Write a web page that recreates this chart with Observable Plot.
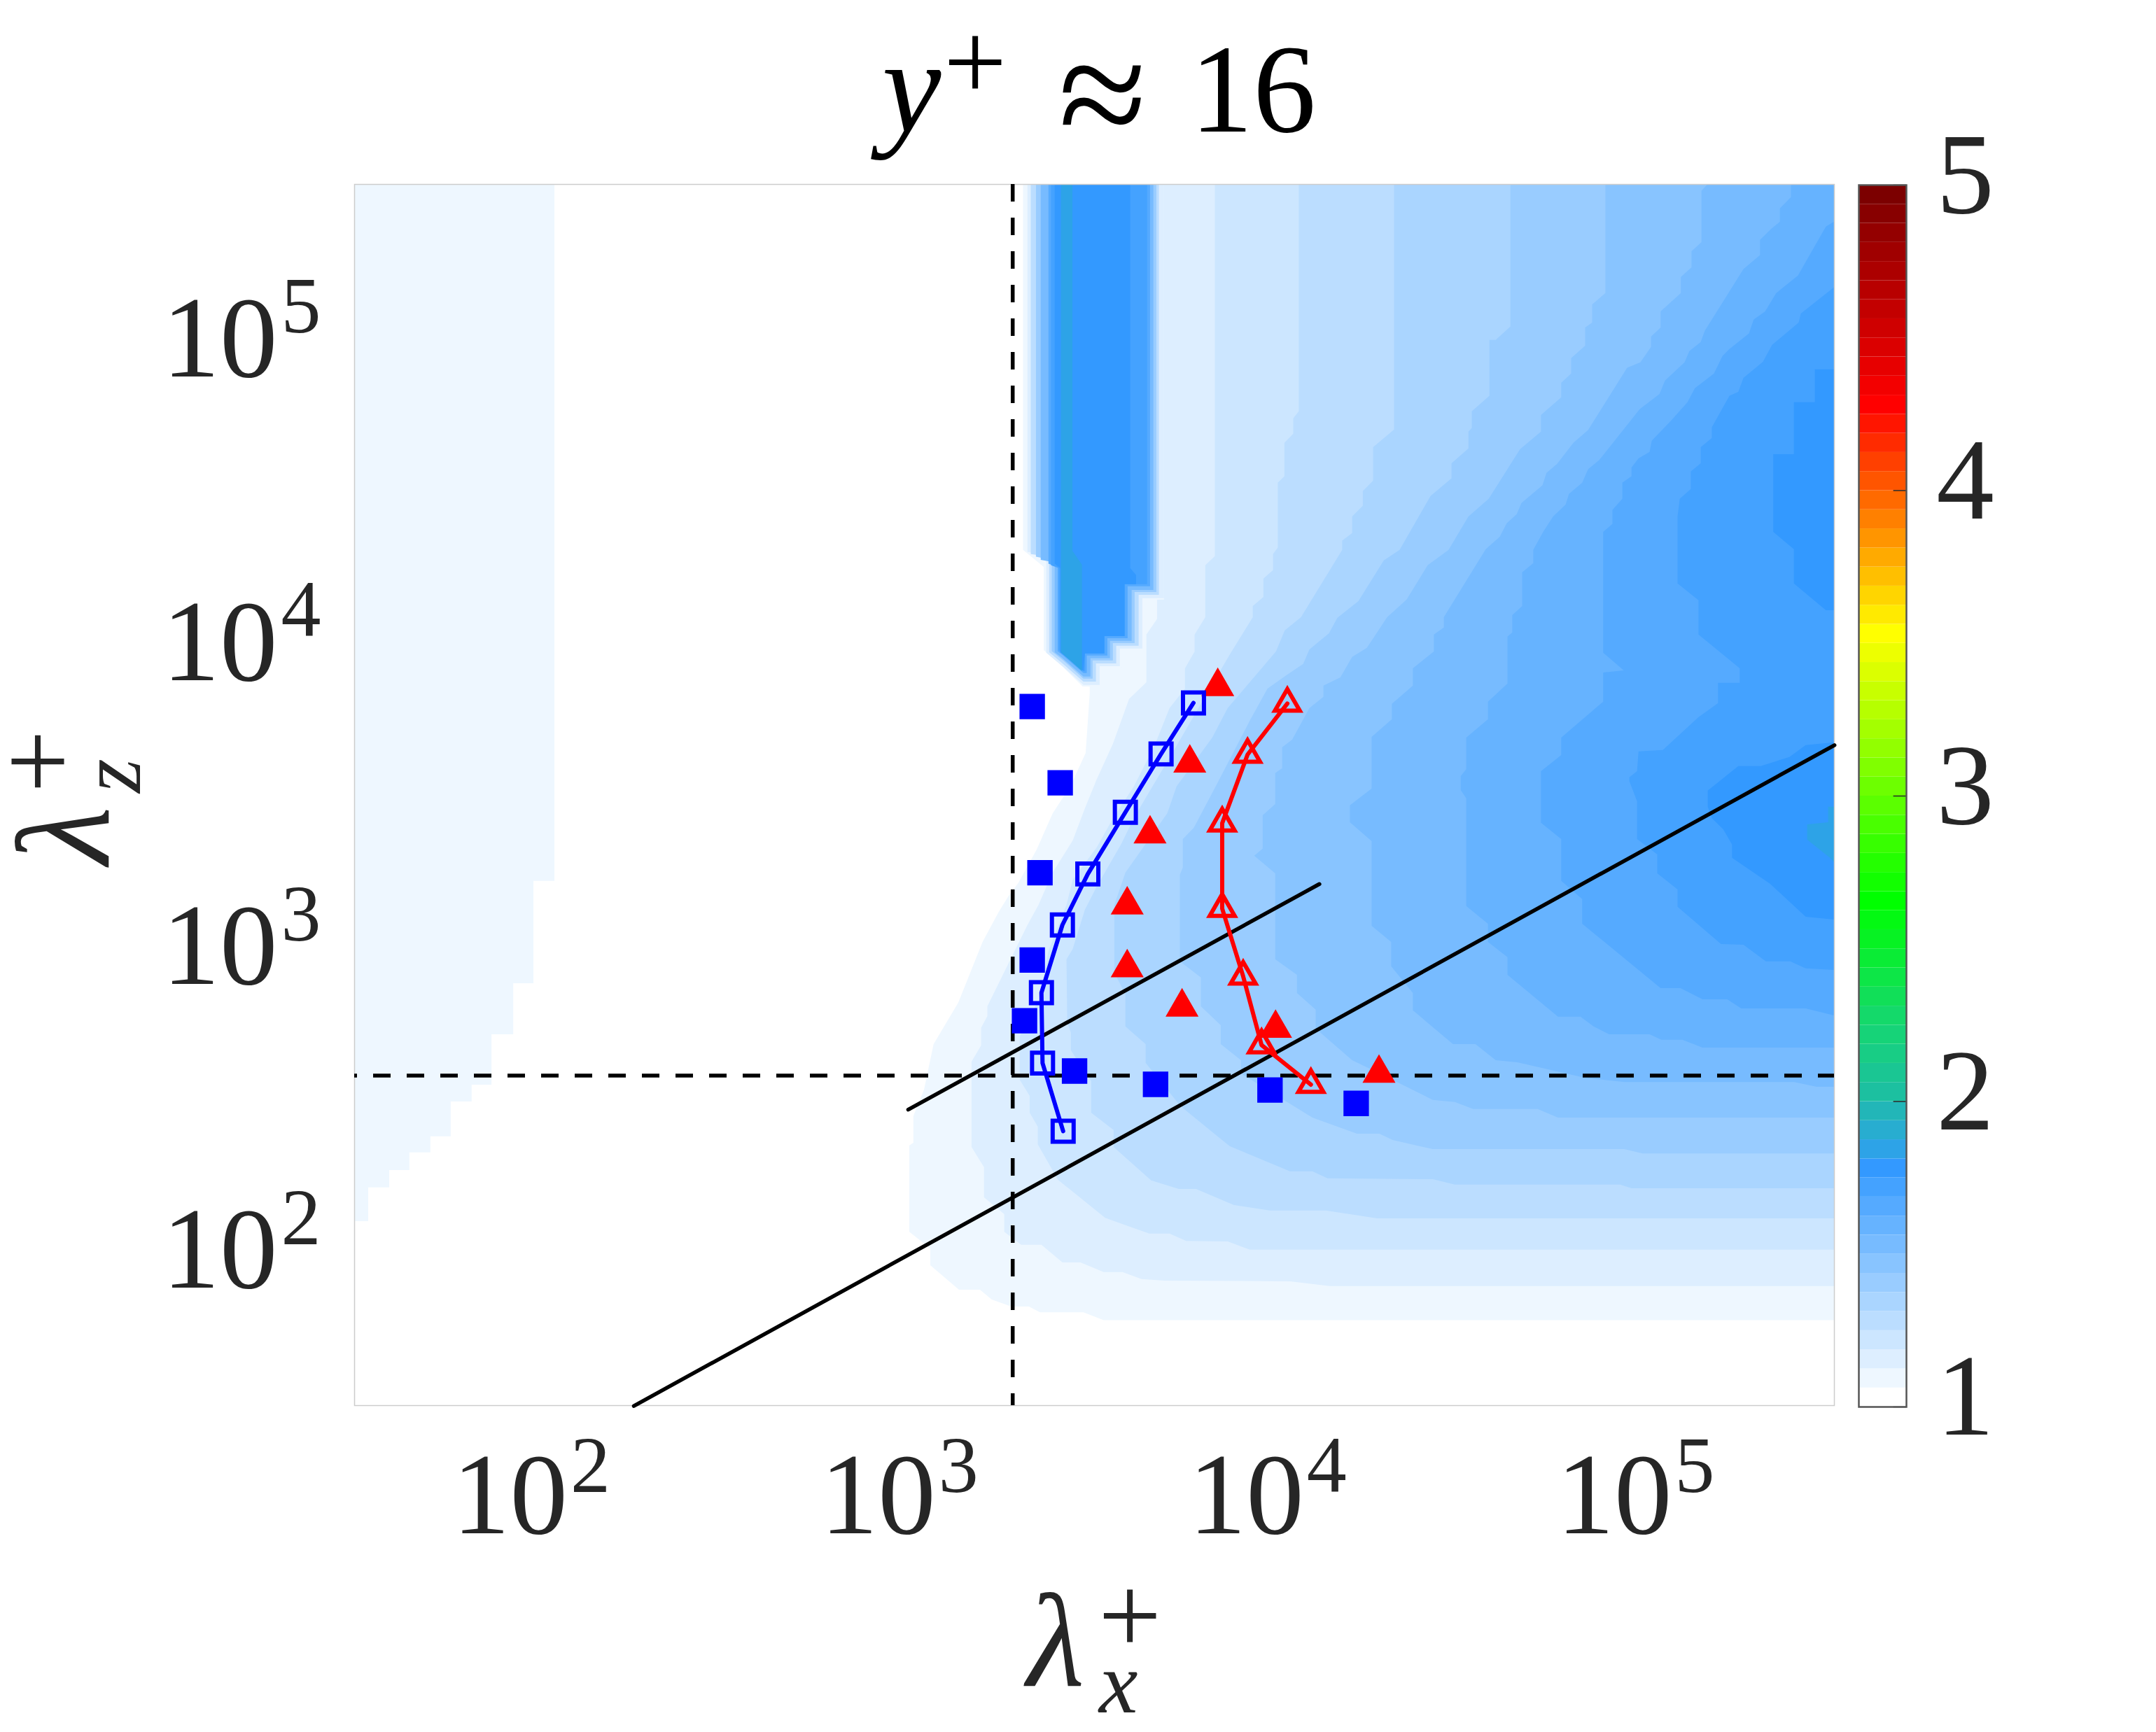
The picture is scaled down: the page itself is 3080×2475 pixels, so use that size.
<!DOCTYPE html>
<html>
<head>
<meta charset="utf-8">
<script src="https://cdn.jsdelivr.net/npm/d3@7"></script>
<script src="https://cdn.jsdelivr.net/npm/@observablehq/plot@0.6"></script>
<style>
  html, body { margin: 0; padding: 0; background: #fff; }
  #chart { position: relative; width: 3080px; height: 2475px; overflow: hidden; }
  #chart svg { display: block; max-width: none; }
</style>
</head>
<body>
<div id="chart"></div>
<script>
// log10 limits of both axes
const logMin = 1.52;
const logMax = 5.54;
const xTicks = [2, 3, 4, 5];
const yTicks = [2, 3, 4, 5];
const barTicks = [1, 2, 3, 4, 5];

// colorbar stops (value, colour), 16 bands per unit
const cmapValues = [1, 1.75, 2, 2.25, 2.625, 3.5, 4.25, 5];
const cmapColors = ["#ffffff", "#3399ff", "#1cc0a0", "#14d96a", "#00ff00", "#ffff00", "#ff0000", "#700000"];

// markers and lines, lambda_x+ and lambda_z+
const blueFilledX = [2296, 2735, 2410, 2296, 2188, 2992, 4966, 10160, 17420];
const blueFilledZ = [6622, 3715, 1879, 970, 612, 418, 378, 362, 327];
const blueOpenX = [6295, 5140, 4111, 3251, 2773, 2432, 2449, 2786];
const blueOpenZ = [6808, 4624, 2972, 1862, 1265, 757, 444, 265];
const redFilledX = [7328, 6152, 4797, 4159, 4159, 5861, 10520, 20090];
const redFilledZ = [7709, 4315, 2523, 1472, 914, 679, 578, 411];
const redOpenX = [11324, 8831, 7534, 7534, 8590, 9638, 13122];
const redOpenZ = [6776, 4603, 2735, 1432, 857, 509, 377];
const longLineX = [190, 347000];
const longLineZ = [33, 4943];
const shortLineX = [1057, 13840];
const shortLineZ = [312, 1725];
const dashX = [2032];
const dashZ = [404];

// contour edges as [log10 lambda_x, log10 lambda_z]
// each band is filled from its edge to the right side of the plot
const band1 = [[5.54,1.8],[3.556,1.8],[3.501,1.826],[3.383,1.826],[3.353,1.845],[3.305,1.845],[3.252,1.868],[3.22,1.9],[3.163,1.9],[3.085,1.981],[3.085,2.036],[3.028,2.091],[3.028,2.375],[3.039,2.384],[3.039,2.472],[3.068,2.559],[3.094,2.709],[3.161,2.845],[3.227,3.045],[3.271,3.144],[3.298,3.197],[3.324,3.239],[3.374,3.349],[3.417,3.467],[3.467,3.561],[3.507,3.667],[3.518,3.861],[3.518,5.54]];
const band2 = [[5.54,1.912],[4.17,1.912],[4.062,1.928],[3.721,1.93],[3.659,1.935],[3.607,1.958],[3.556,1.958],[3.493,1.99],[3.444,1.99],[3.387,2.048],[3.332,2.048],[3.286,2.091],[3.286,2.149],[3.231,2.204],[3.231,2.303],[3.197,2.37],[3.197,2.651],[3.223,2.704],[3.223,2.762],[3.24,2.801],[3.24,2.833],[3.298,2.976],[3.349,3.101],[3.379,3.167],[3.417,3.273],[3.472,3.379],[3.505,3.485],[3.537,3.58],[3.581,3.697],[3.625,3.845],[3.672,3.9],[3.672,4.057],[3.701,4.108],[3.701,4.172],[3.72,4.172],[3.72,5.54]];
const band3 = [[5.54,2.032],[3.953,2.032],[3.893,2.059],[3.78,2.061],[3.735,2.085],[3.68,2.085],[3.638,2.103],[3.56,2.137],[3.432,2.262],[3.377,2.379],[3.377,2.437],[3.355,2.483],[3.355,2.538],[3.328,2.591],[3.328,2.734],[3.383,2.863],[3.406,3.015],[3.455,3.167],[3.472,3.25],[3.537,3.356],[3.581,3.451],[3.638,3.557],[3.693,3.688],[3.735,3.815],[3.777,3.879],[3.777,3.946],[3.803,4.001],[3.803,4.057],[3.832,4.114],[3.832,4.285],[3.858,4.315],[3.858,5.54]];
const band4 = [[5.54,2.135],[4.299,2.135],[4.159,2.161],[4.007,2.161],[3.91,2.179],[3.807,2.232],[3.76,2.232],[3.685,2.26],[3.583,2.37],[3.583,2.426],[3.522,2.483],[3.522,2.587],[3.467,2.688],[3.467,2.746],[3.457,2.78],[3.455,2.988],[3.472,3.022],[3.505,3.151],[3.537,3.227],[3.604,3.368],[3.638,3.453],[3.674,3.527],[3.746,3.674],[3.82,3.829],[3.898,3.99],[3.961,4.114],[3.961,4.151],[3.99,4.181],[3.99,4.241],[4.016,4.269],[4.016,4.322],[4.029,4.343],[4.029,4.557],[4.047,4.578],[4.047,4.688],[4.071,4.718],[4.071,4.769],[4.086,4.792],[4.086,5.54]];
const band5 = [[5.54,2.234],[4.99,2.234],[4.959,2.246],[4.51,2.246],[4.45,2.264],[4.164,2.267],[4.123,2.29],[4.062,2.29],[3.898,2.373],[3.765,2.504],[3.67,2.647],[3.67,2.709],[3.615,2.767],[3.615,2.873],[3.585,2.944],[3.585,3.167],[3.615,3.273],[3.729,3.469],[3.754,3.557],[3.851,3.718],[3.893,3.815],[3.99,3.953],[4.024,4.001],[4.048,4.071],[4.092,4.114],[4.204,4.336],[4.204,4.366],[4.231,4.391],[4.231,4.446],[4.26,4.481],[4.26,4.529],[4.288,4.564],[4.288,4.674],[4.345,4.732],[4.345,5.54]];
const band6 = [[5.54,2.349],[5.02,2.349],[4.97,2.363],[4.45,2.363],[4.341,2.393],[4.305,2.414],[4.244,2.414],[4.123,2.467],[3.929,2.612],[3.929,2.656],[3.874,2.709],[3.874,2.771],[3.82,2.833],[3.82,2.928],[3.763,2.981],[3.763,3.266],[3.771,3.29],[3.771,3.384],[3.801,3.421],[3.868,3.575],[3.955,3.778],[4.001,3.879],[4.052,3.923],[4.098,3.96],[4.115,4.008],[4.168,4.061],[4.191,4.112],[4.248,4.167],[4.317,4.301],[4.36,4.336],[4.444,4.513],[4.501,4.571],[4.501,4.621],[4.547,4.67],[4.547,4.725],[4.556,4.737],[4.556,4.792],[4.604,4.843],[4.604,5.027],[4.621,5.027],[4.661,5.071],[4.661,5.54]];
const band7 = [[5.54,2.467],[4.79,2.467],[4.735,2.495],[4.56,2.495],[4.51,2.518],[4.45,2.525],[4.353,2.584],[4.231,2.656],[4.132,2.76],[4.132,2.822],[4.081,2.877],[4.081,2.937],[4.022,2.988],[4.022,3.271],[3.965,3.329],[3.988,3.352],[3.988,3.462],[4.022,3.499],[4.022,3.601],[4.041,3.617],[4.041,3.686],[4.068,3.711],[4.115,3.815],[4.153,3.852],[4.153,3.889],[4.199,3.916],[4.231,3.983],[4.271,4.013],[4.326,4.114],[4.379,4.172],[4.436,4.285],[4.493,4.336],[4.547,4.446],[4.602,4.504],[4.687,4.667],[4.744,4.725],[4.744,4.78],[4.799,4.838],[4.799,4.886],[4.826,4.916],[4.826,4.967],[4.864,5.008],[4.864,5.068],[4.883,5.084],[4.883,5.144],[4.919,5.181],[4.919,5.54]];
const band8 = [[5.54,2.568],[5.493,2.568],[5.432,2.584],[4.972,2.584],[4.862,2.598],[4.68,2.649],[4.621,2.656],[4.566,2.709],[4.505,2.709],[4.396,2.82],[4.396,2.877],[4.337,2.965],[4.337,3.045],[4.284,3.098],[4.284,3.377],[4.225,3.439],[4.225,3.495],[4.284,3.55],[4.284,3.72],[4.339,3.778],[4.339,3.829],[4.396,3.889],[4.396,3.946],[4.453,4.001],[4.453,4.057],[4.48,4.08],[4.48,4.114],[4.594,4.338],[4.632,4.379],[4.651,4.423],[4.678,4.453],[4.691,4.49],[4.748,4.548],[4.759,4.589],[4.788,4.619],[4.832,4.688],[4.872,4.73],[4.978,4.935],[5.014,4.953],[5.043,5.004],[5.043,5.038],[5.069,5.068],[5.069,5.121],[5.124,5.181],[5.124,5.234],[5.153,5.266],[5.153,5.319],[5.18,5.349],[5.18,5.518],[5.197,5.54]];
const band9 = [[5.54,2.697],[5.183,2.697],[5.128,2.723],[5.071,2.723],[5.039,2.741],[4.929,2.741],[4.887,2.767],[4.851,2.799],[4.79,2.799],[4.653,2.937],[4.653,2.995],[4.6,3.045],[4.6,3.105],[4.541,3.163],[4.541,3.518],[4.526,3.545],[4.526,3.591],[4.541,3.614],[4.541,3.718],[4.6,3.778],[4.6,3.836],[4.653,3.896],[4.653,4.05],[4.666,4.064],[4.666,4.121],[4.693,4.151],[4.693,4.262],[4.723,4.292],[4.723,4.336],[4.75,4.395],[4.777,4.446],[4.811,4.485],[4.82,4.52],[4.856,4.557],[4.872,4.601],[4.902,4.631],[5.012,4.799],[5.066,4.849],[5.081,4.893],[5.134,4.953],[5.147,4.99],[5.178,5.02],[5.189,5.057],[5.294,5.26],[5.339,5.306],[5.339,5.356],[5.37,5.393],[5.393,5.416],[5.393,5.46],[5.423,5.497],[5.423,5.54]];
const band10 = [[5.54,2.803],[5.463,2.826],[5.288,2.826],[5.25,2.856],[5.183,2.856],[5.123,2.893],[5.069,2.893],[4.856,3.105],[4.856,3.186],[4.799,3.246],[4.799,3.384],[4.744,3.437],[4.744,3.607],[4.799,3.66],[4.799,3.718],[4.913,3.836],[4.913,3.932],[4.969,3.939],[4.913,3.997],[4.913,4.395],[4.938,4.421],[4.938,4.467],[4.965,4.504],[4.965,4.557],[4.99,4.578],[4.99,4.607],[5.009,4.637],[5.039,4.658],[5.045,4.695],[5.098,4.762],[5.142,4.822],[5.162,4.868],[5.214,4.916],[5.237,4.974],[5.256,4.997],[5.309,5.048],[5.322,5.094],[5.353,5.121],[5.383,5.181],[5.442,5.239],[5.518,5.4],[5.54,5.416]];
const band11 = [[5.54,2.953],[5.463,2.958],[5.421,2.981],[5.355,2.981],[5.294,3.036],[5.233,3.038],[5.115,3.161],[5.115,3.218],[5.06,3.271],[5.06,3.333],[5.005,3.384],[5.005,3.508],[4.984,3.575],[4.984,3.587],[5.005,3.607],[5.009,3.672],[5.075,3.677],[5.172,3.785],[5.225,3.831],[5.225,3.898],[5.284,3.898],[5.284,3.946],[5.172,4.057],[5.172,4.17],[5.115,4.225],[5.115,4.446],[5.121,4.504],[5.151,4.536],[5.151,4.594],[5.178,4.621],[5.178,4.674],[5.208,4.704],[5.208,4.739],[5.256,4.843],[5.28,4.856],[5.294,4.902],[5.347,4.955],[5.372,5.011],[5.444,5.084],[5.45,5.114],[5.54,5.2]];
const band12a = [[5.54,4.137],[5.518,4.137],[5.431,4.225],[5.431,4.338],[5.375,4.395],[5.375,4.651],[5.431,4.651],[5.431,4.822],[5.488,4.822],[5.488,4.93],[5.54,4.93]];
const band12b = [[5.54,3.119],[5.463,3.128],[5.366,3.237],[5.263,3.322],[5.263,3.366],[5.239,3.416],[5.208,3.453],[5.197,3.49],[5.197,3.543],[5.28,3.624],[5.341,3.624],[5.419,3.654],[5.463,3.693],[5.54,3.702]];
const band13 = [[5.54,3.308],[5.529,3.322],[5.467,3.382],[5.467,3.432],[5.524,3.439],[5.524,3.49],[5.54,3.49]];

// lower left strip, filled from the left side of the plot to its edge
const leftStrip = [[2.064,5.54],[2.064,3.246],[2.007,3.246],[2.007,2.909],[1.952,2.909],[1.952,2.741],[1.893,2.741],[1.893,2.575],[1.839,2.575],[1.839,2.52],[1.782,2.52],[1.782,2.405],[1.727,2.405],[1.727,2.352],[1.67,2.352],[1.67,2.294],[1.615,2.294],[1.615,2.237],[1.558,2.237],[1.558,2.126],[1.52,2.126]];

// column at the top, [log x left, log x right, log z]
const col1 = [[3.337,3.706,5.54],[3.337,3.706,4.336],[3.393,3.706,4.28],[3.393,3.706,4.172],[3.393,3.666,4.172],[3.393,3.666,4.006],[3.393,3.605,4.006],[3.446,3.605,3.949],[3.446,3.548,3.949],[3.499,3.548,3.886]];
const col2 = [[3.349,3.72,5.54],[3.349,3.72,4.329],[3.4,3.72,4.32],[3.4,3.72,4.177],[3.4,3.661,4.177],[3.4,3.661,4.011],[3.4,3.6,4.011],[3.4,3.6,3.997],[3.444,3.6,3.953],[3.444,3.545,3.953],[3.501,3.545,3.891]];
const col4 = [[3.358,3.706,5.54],[3.358,3.706,4.322],[3.408,3.706,4.313],[3.408,3.706,4.188],[3.408,3.651,4.188],[3.408,3.651,4.02],[3.408,3.59,4.02],[3.408,3.59,3.999],[3.444,3.59,3.962],[3.444,3.535,3.962],[3.501,3.535,3.902]];
const col6 = [[3.372,3.699,5.54],[3.372,3.699,4.313],[3.415,3.699,4.303],[3.415,3.699,4.197],[3.415,3.64,4.197],[3.415,3.64,4.029],[3.415,3.581,4.029],[3.415,3.581,4.002],[3.446,3.581,3.972],[3.446,3.526,3.972],[3.501,3.526,3.912]];
const col8 = [[3.385,3.691,5.54],[3.385,3.691,4.303],[3.423,3.691,4.294],[3.423,3.691,4.204],[3.423,3.632,4.204],[3.423,3.632,4.036],[3.423,3.573,4.036],[3.423,3.573,3.999],[3.444,3.573,3.979],[3.444,3.52,3.979],[3.501,3.52,3.919]];
const col10 = [[3.406,3.682,5.54],[3.406,3.682,4.29],[3.431,3.682,4.28],[3.431,3.682,4.216],[3.431,3.621,4.216],[3.431,3.621,4.045],[3.431,3.566,4.045],[3.431,3.566,4.002],[3.446,3.566,3.988],[3.446,3.51,3.988],[3.501,3.51,3.93]];
const col11 = [[3.413,3.674,5.54],[3.413,3.674,4.285],[3.434,3.674,4.276],[3.434,3.674,4.223],[3.434,3.613,4.223],[3.434,3.613,4.052],[3.434,3.558,4.052],[3.434,3.558,4.006],[3.446,3.558,3.995],[3.446,3.505,3.995],[3.501,3.505,3.937]];
const col12 = [[3.423,3.628,5.54],[3.423,3.628,4.29],[3.438,3.628,4.276],[3.438,3.644,4.253],[3.438,3.644,4.223],[3.438,3.613,4.223],[3.438,3.613,4.052],[3.438,3.558,4.052],[3.438,3.558,3.999],[3.442,3.558,3.995],[3.442,3.505,3.995],[3.501,3.501,3.937]];
const col13 = [[3.44,3.471,5.54],[3.44,3.471,4.333],[3.44,3.497,4.287],[3.44,3.497,3.999],[3.497,3.497,3.937]];

const bandList = [[1, band1], [2, band2], [3, band3], [4, band4], [5, band5], [6, band6], [7, band7], [8, band8], [9, band9], [10, band10], [11, band11], [12, band12a], [12, band12b], [13, band13]];
const colList = [[1, col1], [2, col2], [4, col4], [6, col6], [8, col8], [10, col10], [11, col11], [12, col12], [13, col13]];

const level = k => 1 + k / 16;
const cmap = d3.scaleLinear().domain(cmapValues).range(cmapColors);
const bands = d3.range(64);
const colorOpts = {
  type: "threshold",
  domain: bands.slice(1).map(level),
  range: bands.map(k => cmap(level(k)))
};

const pairs = (xs, zs) => xs.map((x, i) => ({x: x, z: zs[i]}));

const serif = "Liberation Serif";
const ink = "#262626";

const chart = Plot.plot({
  width: 3080,
  height: 2475,
  marginLeft: 506,
  marginRight: 460,
  marginTop: 263,
  marginBottom: 467,
  x: {type: "log", domain: [10 ** logMin, 10 ** logMax], axis: null},
  y: {type: "log", domain: [10 ** logMin, 10 ** logMax], axis: null},
  color: colorOpts,
  marks: [
    Plot.areaX(leftStrip, {
      y: d => 10 ** d[1],
      x1: () => 10 ** logMin,
      x2: d => 10 ** d[0],
      fill: () => level(1)
    }),
    ...bandList.map(([k, pts]) => Plot.areaX(pts, {
      y: d => 10 ** d[1],
      x1: d => 10 ** d[0],
      x2: () => 10 ** logMax,
      fill: () => level(k)
    })),
    ...colList.map(([k, pts]) => Plot.areaX(pts, {
      y: d => 10 ** d[2],
      x1: d => 10 ** d[0],
      x2: d => 10 ** d[1],
      fill: () => level(k)
    })),
    Plot.frame({stroke: "#cccccc", strokeWidth: 1.5}),
    Plot.ruleX(dashX, {stroke: "black", strokeWidth: 5.5, strokeDasharray: "25,23"}),
    Plot.ruleY(dashZ, {stroke: "black", strokeWidth: 5.5, strokeDasharray: "25,23", strokeDashoffset: 21}),
    Plot.line(pairs(longLineX, longLineZ), {x: "x", y: "z", stroke: "black", strokeWidth: 5.5}),
    Plot.line(pairs(shortLineX, shortLineZ), {x: "x", y: "z", stroke: "black", strokeWidth: 5.5}),
    Plot.dot(pairs(blueFilledX, blueFilledZ), {x: "x", y: "z", symbol: "square", r: 20.5, fill: "#0000ff"}),
    Plot.dot(pairs(redFilledX, redFilledZ), {x: "x", y: "z", symbol: "triangle", r: 17.5, fill: "#ff0000"}),
    Plot.line(pairs(blueOpenX, blueOpenZ), {x: "x", y: "z", stroke: "#0000ff", strokeWidth: 6}),
    Plot.dot(pairs(blueOpenX, blueOpenZ), {x: "x", y: "z", symbol: "square", r: 16.9, stroke: "#0000ff", strokeWidth: 6, fill: "none"}),
    Plot.line(pairs(redOpenX, redOpenZ), {x: "x", y: "z", stroke: "#ff0000", strokeWidth: 6}),
    Plot.dot(pairs(redOpenX, redOpenZ), {x: "x", y: "z", symbol: "triangle", r: 13.2, stroke: "#ff0000", strokeWidth: 6, fill: "none"}),
    // tick labels, base and exponent apart
    Plot.text(xTicks, {x: d => 10 ** d, text: () => "10", frameAnchor: "bottom", lineAnchor: "middle", textAnchor: "end", dx: 52, dy: 130, fontSize: 165, fontFamily: serif, fill: ink}),
    Plot.text(xTicks, {x: d => 10 ** d, text: d => String(d), frameAnchor: "bottom", lineAnchor: "middle", textAnchor: "start", dx: 56, dy: 87, fontSize: 114, fontFamily: serif, fill: ink}),
    Plot.text(yTicks, {y: d => 10 ** d, text: () => "10", frameAnchor: "left", textAnchor: "end", dx: -110, dy: -13, fontSize: 165, fontFamily: serif, fill: ink}),
    Plot.text(yTicks, {y: d => 10 ** d, text: d => String(d), frameAnchor: "left", textAnchor: "start", dx: -105, dy: -59, fontSize: 114, fontFamily: serif, fill: ink})
  ]
});

const colorbar = Plot.plot({
  width: 460,
  height: 2475,
  marginLeft: 35,
  marginRight: 357,
  marginTop: 264,
  marginBottom: 465,
  x: {domain: [0, 1], axis: null},
  y: {domain: [1, 5], axis: null},
  color: colorOpts,
  marks: [
    Plot.rect(bands, {x1: () => 0, x2: () => 1, y1: level, y2: k => level(k) + 1 / 16, fill: level}),
    Plot.ruleY(barTicks, {x1: 0.73, x2: 1, stroke: ink, strokeWidth: 1.5}),
    Plot.frame({stroke: "#555555", strokeWidth: 2.5}),
    Plot.text(barTicks, {y: d => d, text: d => String(d), frameAnchor: "right", textAnchor: "middle", dx: 84, dy: -13, fontSize: 165, fontFamily: serif, fill: ink})
  ]
});
colorbar.style.position = "absolute";
colorbar.style.left = "2620px";
colorbar.style.top = "0px";
colorbar.style.background = "transparent";

d3.select("#chart").append(() => chart);
d3.select("#chart").append(() => colorbar);

// title and axis labels, each one text element with placed tspans
const svg = d3.select(chart);
function mathText(parts, transform) {
  const t = svg.append("text").attr("font-family", serif).attr("fill", ink);
  if (transform) t.attr("transform", transform);
  parts.forEach(p => {
    t.append("tspan")
      .attr("x", p.x).attr("y", p.y)
      .attr("font-size", p.size)
      .attr("font-style", p.italic ? "italic" : "normal")
      .attr("text-anchor", p.anchor || "start")
      .attr("fill", p.fill || ink)
      .text(p.t);
  });
}
mathText([
  {t: "y", x: 1260, y: 188, size: 190, italic: true, fill: "black"},
  {t: "+", x: 1393, y: 143, size: 160, anchor: "middle", fill: "black"},
  {t: "≈", x: 1575, y: 212, size: 230, anchor: "middle", fill: "black"},
  {t: "16", x: 1700, y: 188, size: 180, fill: "black"}
]);
mathText([
  {t: "λ", x: 1467, y: 2410, size: 190, italic: true},
  {t: "+", x: 1614, y: 2363, size: 160, anchor: "middle"},
  {t: "x", x: 1570, y: 2447, size: 125, italic: true}
]);
// rotated label: x runs up the page, y runs to the right
mathText([
  {t: "λ", x: 0, y: 0, size: 190, italic: true},
  {t: "+", x: 147, y: -48, size: 160, anchor: "middle"},
  {t: "z", x: 102, y: 44, size: 125, italic: true}
], "translate(156,1235) rotate(-90)");
</script>
</body>
</html>
